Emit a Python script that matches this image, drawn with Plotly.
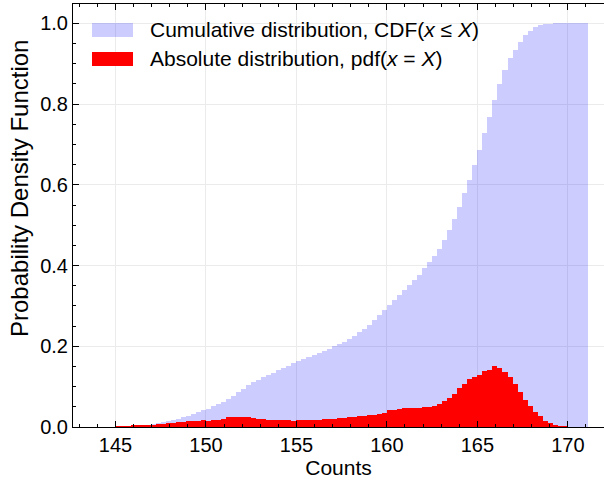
import plotly.graph_objects as go

# Histogram bins (start and width in "Counts")
bin_start = 145.0
bin_width = 0.27778

# Absolute distribution (density per bin)
pdf_values = [
    0.002, 0.002, 0.002, 0.003, 0.003, 0.004, 0.005, 0.006, 0.007, 0.008,
    0.009, 0.011, 0.012, 0.013, 0.014, 0.016, 0.016, 0.017, 0.016, 0.018,
    0.018, 0.020, 0.024, 0.026, 0.025, 0.026, 0.025, 0.023, 0.021, 0.019,
    0.018, 0.018, 0.017, 0.017, 0.017, 0.015, 0.017, 0.017, 0.017, 0.018,
    0.018, 0.019, 0.021, 0.021, 0.022, 0.023, 0.025, 0.025, 0.027, 0.028,
    0.029, 0.030, 0.032, 0.034, 0.041, 0.041, 0.044, 0.046, 0.047, 0.048,
    0.046, 0.049, 0.050, 0.052, 0.058, 0.064, 0.072, 0.083, 0.097, 0.107,
    0.118, 0.123, 0.130, 0.138, 0.142, 0.152, 0.146, 0.137, 0.123, 0.107,
    0.087, 0.066, 0.052, 0.038, 0.027, 0.016, 0.009, 0.005, 0.002, 0.001,
    0.0, 0.0, 0.0, 0.0,
]

# Cumulative distribution per bin
cdf_values = [
    0.001, 0.001, 0.002, 0.003, 0.003, 0.004, 0.006, 0.008, 0.009, 0.012,
    0.014, 0.017, 0.021, 0.024, 0.028, 0.033, 0.037, 0.042, 0.045, 0.051,
    0.057, 0.063, 0.070, 0.078, 0.086, 0.095, 0.104, 0.111, 0.117, 0.123,
    0.129, 0.135, 0.141, 0.147, 0.152, 0.158, 0.163, 0.168, 0.173, 0.178,
    0.183, 0.189, 0.194, 0.200, 0.205, 0.211, 0.218, 0.226, 0.235, 0.244,
    0.253, 0.266, 0.278, 0.290, 0.303, 0.315, 0.328, 0.340, 0.352, 0.365,
    0.377, 0.394, 0.408, 0.424, 0.441, 0.464, 0.488, 0.515, 0.545, 0.579,
    0.612, 0.649, 0.686, 0.728, 0.769, 0.810, 0.849, 0.884, 0.913, 0.934,
    0.954, 0.971, 0.982, 0.990, 0.995, 0.998, 0.999, 1.000, 1.000, 1.000,
    1.000, 1.000, 1.000, 1.000,
]

x_ticks = [145, 150, 155, 160, 165, 170]
y_ticks = [0.0, 0.2, 0.4, 0.6, 0.8, 1.0]

cdf_label = "Cumulative distribution, CDF(<i>x</i> ≤ <i>X</i>)"
pdf_label = "Absolute distribution, pdf(<i>x</i> = <i>X</i>)"
y_title = "Probability Density Function"
x_title = "Counts"
cdf_color = "rgba(0,0,255,0.2)"
pdf_color = "#ff0000"

FONT = "Liberation Sans, Arial, Helvetica, sans-serif"
FS = 21

fig = go.Figure()
fig.add_trace(go.Bar(
    y=cdf_values, x0=bin_start + bin_width / 2, dx=bin_width,
    width=bin_width, marker=dict(color=cdf_color, line=dict(width=0)),
    name=cdf_label, showlegend=False,
))
fig.add_trace(go.Bar(
    y=pdf_values, x0=bin_start + bin_width / 2, dx=bin_width,
    width=bin_width, marker=dict(color=pdf_color, line=dict(width=0)),
    name=pdf_label, showlegend=False,
))

H = 481
W = 604
ml, mr, mt, mb = 73, 0, 4, 54
pw = W - ml - mr
ph = H - mt - mb
def px_to_paper_x(px):
    return (px - ml) / pw
def px_to_paper_y(py):
    return 1 - (py - mt) / ph

# Manual legend (swatches + labels)
legend_rows = [(cdf_label, cdf_color), (pdf_label, pdf_color)]
row_centers = [30, 59]
for (label, color), yc in zip(legend_rows, row_centers):
    fig.add_shape(type="rect", xref="paper", yref="paper",
                  x0=px_to_paper_x(92), x1=px_to_paper_x(133),
                  y0=px_to_paper_y(yc + 7), y1=px_to_paper_y(yc - 7),
                  fillcolor=color, line=dict(width=0), layer="above")
    fig.add_annotation(xref="paper", yref="paper",
                       x=px_to_paper_x(148), y=px_to_paper_y(yc),
                       xanchor="left", yanchor="middle", showarrow=False,
                       text=label, font=dict(family=FONT, size=FS, color="black"))

# Y-axis title
fig.add_annotation(xref="paper", yref="paper",
                   x=px_to_paper_x(19), y=px_to_paper_y(189),
                   xanchor="center", yanchor="middle", showarrow=False,
                   textangle=-90, text=y_title,
                   font=dict(family=FONT, size=24, color="black"))

fig.update_layout(
    width=W, height=H,
    margin=dict(l=ml, r=mr, t=mt, b=mb),
    paper_bgcolor="white", plot_bgcolor="white",
    barmode="overlay", bargap=0,
    font=dict(family=FONT, size=20, color="black"),
)
fig.update_xaxes(
    range=[142.65, 172.0],
    tickvals=x_ticks, ticktext=[str(v) for v in x_ticks],
    tickfont=dict(size=20),
    ticks="inside", ticklen=6, tickwidth=1, tickcolor="black",
    showline=True, linecolor="black", linewidth=1, mirror="ticks",
    showgrid=True, gridcolor="#ebebeb", gridwidth=1,
    minor=dict(dtick=1, tick0=145, ticks="inside", ticklen=3, tickcolor="black", showgrid=False),
    zeroline=False,
    title=dict(text=x_title, font=dict(family=FONT, size=FS), standoff=3),
)
fig.update_yaxes(
    range=[0, 1.048],
    tickvals=y_ticks, ticktext=[f"{v:.1f}" for v in y_ticks],
    tickfont=dict(size=20),
    ticks="inside", ticklen=6, tickwidth=1, tickcolor="black",
    showline=True, linecolor="black", linewidth=1, mirror=False,
    showgrid=True, gridcolor="#ebebeb", gridwidth=1,
    minor=dict(dtick=0.05, tick0=0, ticks="inside", ticklen=3, tickcolor="black", showgrid=False),
    zeroline=False,
)

fig.write_html("out.html")
